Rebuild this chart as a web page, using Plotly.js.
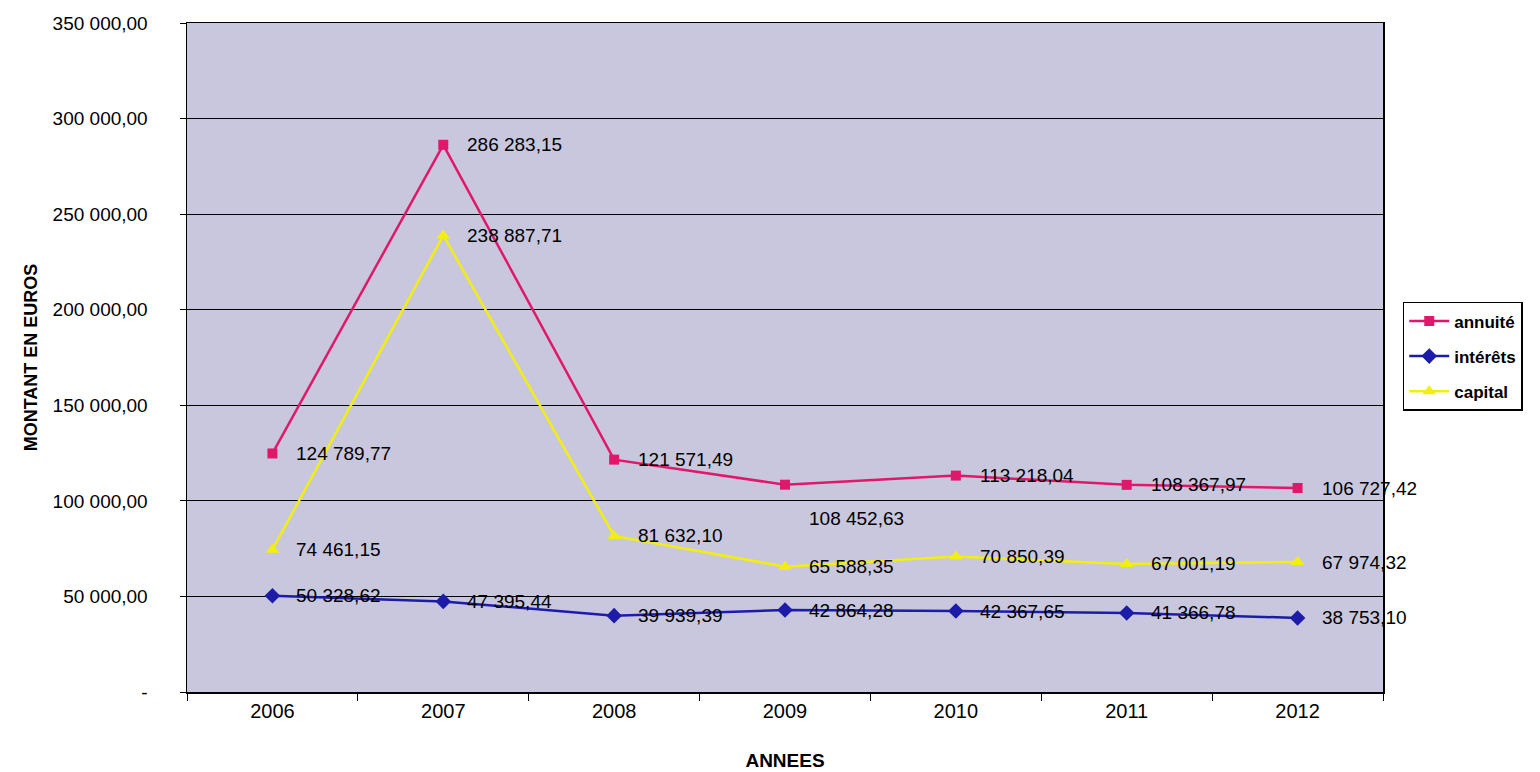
<!DOCTYPE html>
<html>
<head>
<meta charset="utf-8">
<script src="https://cdn.plot.ly/plotly-3.0.1.min.js"></script>
<style>html,body{margin:0;padding:0;background:#fff;}#chart{width:1540px;height:772px;}</style>
</head>
<body>
<div id="chart"></div>
<script>
const years = ['2006','2007','2008','2009','2010','2011','2012'];
const annuite = [124789.77, 286283.15, 121571.49, 108452.63, 113218.04, 108367.97, 106727.42];
const interets = [50328.62, 47395.44, 39939.39, 42864.28, 42367.65, 41366.78, 38753.10];
const capital = [74461.15, 238887.71, 81632.10, 65588.35, 70850.39, 67001.19, 67974.32];
const yTicks = [0, 50000, 100000, 150000, 200000, 250000, 300000, 350000];

function fr(v) {
  const parts = v.toFixed(2).split('.');
  const intPart = parts[0].replace(/\B(?=(\d{3})+(?!\d))/g, ' ');
  return intPart + ',' + parts[1];
}

const series = [
  {name: 'annuité', y: annuite, color: '#e0186c', symbol: 'square', size: 10},
  {name: 'intérêts', y: interets, color: '#1c1ca8', symbol: 'diamond', size: 12},
  {name: 'capital', y: capital, color: '#f2ef10', symbol: 'triangle-up', size: 12}
];

const traces = series.map((s, si) => ({
  type: 'scatter', mode: 'lines+markers', name: s.name,
  legendgroup: 'g' + si,
  x: years, y: s.y,
  line: {color: s.color, width: 2.5},
  marker: {color: s.color, symbol: s.symbol, size: s.size}
}));

const annotations = [];
series.forEach((s, si) => {
  s.y.forEach((v, i) => {
    let ys = 0;
    if (si === 0 && i === 3) ys = -34;
    annotations.push({
      x: i, y: v, xref: 'x', yref: 'y',
      text: fr(v), showarrow: false, xanchor: 'left', yanchor: 'middle',
      xshift: 22, yshift: ys,
      font: {family: 'Liberation Sans, Arial, sans-serif', size: 19, color: '#000'}
    });
  });
});

const layout = {
  width: 1540, height: 772,
  margin: {l: 187, r: 157, t: 23, b: 80},
  paper_bgcolor: '#ffffff',
  plot_bgcolor: '#c9c7dd',
  showlegend: true,
  legend: {
    x: 1.0165, xanchor: 'left', y: 0.583, yanchor: 'top',
    bgcolor: '#ffffff', bordercolor: '#000', borderwidth: 1.5,
    font: {family: 'Liberation Sans, Arial, sans-serif', size: 17, color: '#000', weight: 'bold'},
    itemwidth: 40, tracegroupgap: 10, traceorder: 'grouped'
  },
  xaxis: {
    type: 'category',
    categoryorder: 'array', categoryarray: years,
    range: [-0.5, 6.5], autorange: false,
    tickangle: 0,
    tickson: 'boundaries', ticks: 'outside', ticklen: 7, tickcolor: '#000',
    showline: true, linecolor: '#000', linewidth: 1.5, mirror: true,
    showgrid: false,
    tickfont: {family: 'Liberation Sans, Arial, sans-serif', size: 20, color: '#000'},
    title: {text: '<b>ANNEES</b>', standoff: 33, font: {family: 'Liberation Sans, Arial, sans-serif', size: 19, color: '#000'}}
  },
  yaxis: {
    range: [0, 350000], autorange: false,
    tickvals: yTicks,
    ticktext: yTicks.map(v => v === 0 ? '-' : fr(v)),
    ticks: 'outside', ticklen: 6, tickcolor: '#000',
    showline: true, linecolor: '#000', linewidth: 1.5, mirror: true,
    showgrid: true, gridcolor: '#000', gridwidth: 1,
    zeroline: false,
    tickfont: {family: 'Liberation Sans, Arial, sans-serif', size: 19, color: '#000'},
    ticklabelstandoff: 28,
    title: {text: '<b>MONTANT EN EUROS</b>', standoff: 10, font: {family: 'Liberation Sans, Arial, sans-serif', size: 18, color: '#000'}}
  },
  annotations: annotations
};

Plotly.newPlot('chart', traces, layout, {displayModeBar: false, staticPlot: true});
</script>
</body>
</html>
